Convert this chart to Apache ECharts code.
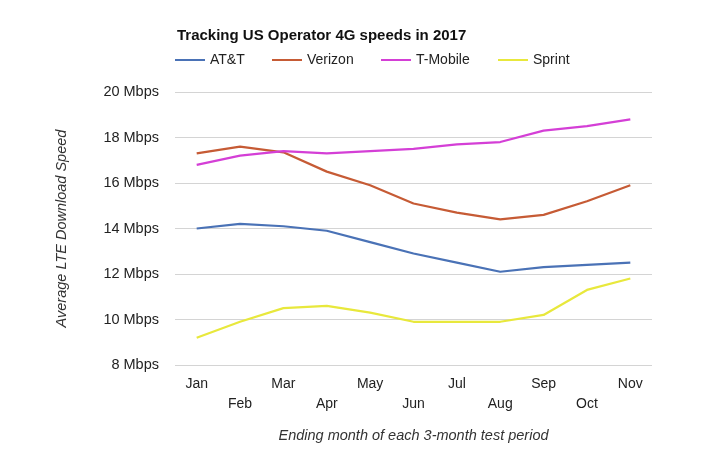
<!DOCTYPE html>
<html><head><meta charset="utf-8">
<script src="https://cdn.jsdelivr.net/npm/echarts@6/dist/echarts.min.js"></script>
<style>html,body{margin:0;padding:0;background:#fff;}#c{width:728px;height:465px;}</style>
</head><body><div id="c"></div>
<script>
const months = ['Jan','Feb','Mar','Apr','May','Jun','Jul','Aug','Sep','Oct','Nov'];
const att = [14.0,14.2,14.1,13.9,13.4,12.9,12.5,12.1,12.3,12.4,12.5];
const verizon = [17.3,17.6,17.35,16.5,15.9,15.1,14.7,14.4,14.6,15.2,15.9];
const tmobile = [16.8,17.2,17.4,17.3,17.4,17.5,17.7,17.8,18.3,18.5,18.8];
const sprint = [9.2,9.9,10.5,10.6,10.3,9.9,9.9,9.9,10.2,11.3,11.8];
const seriesNames = ['AT&T','Verizon','T-Mobile','Sprint'];
const colors = ['#4a72b6','#c65b35','#d43fd6','#e8e83c'];
const FONT = 'Liberation Sans, Arial, sans-serif';
const chart = echarts.init(document.getElementById('c'));
const legendLefts = [175, 272, 381, 498];
chart.setOption({
  animation: false,
  textStyle: {fontFamily: FONT},
  title: {text: 'Tracking US Operator 4G speeds in 2017', left: 172, top: 23,
    textStyle: {fontFamily: FONT, fontSize: 15, fontWeight: 'bold', color: '#111'}},
  legend: seriesNames.map((n, i) => ({
    data: [n], left: legendLefts[i], top: 53, padding: 0, itemWidth: 30, itemHeight: 14, itemGap: 5,
    icon: 'path://M0,6 L30,6 L30,8 L0,8 Z',
    textStyle: {fontFamily: FONT, fontSize: 14, color: '#222'}
  })),
  grid: {left: 175, right: 76, top: 92, bottom: 100},
  xAxis: {
    type: 'category', data: months, boundaryGap: true,
    axisLine: {show: false}, axisTick: {show: false},
    axisLabel: {fontFamily: FONT, fontSize: 14, color: '#222', margin: 9, lineHeight: 20,
      formatter: (v, i) => (i % 2 ? '\n' + v : v)},
    name: 'Ending month of each 3-month test period', nameLocation: 'middle', nameGap: 63,
    nameTextStyle: {fontFamily: FONT, fontSize: 14.5, fontStyle: 'italic', color: '#333'}
  },
  yAxis: {
    type: 'value', min: 8, max: 20, interval: 2,
    axisLine: {show: false}, axisTick: {show: false},
    axisLabel: {fontFamily: FONT, fontSize: 14.5, color: '#222', margin: 16, formatter: v => v + ' Mbps'},
    splitLine: {lineStyle: {color: '#d4d4d4', width: 1}},
    name: 'Average LTE Download Speed', nameLocation: 'middle', nameGap: 106, nameRotate: 90,
    nameTextStyle: {fontFamily: FONT, fontSize: 14.5, fontStyle: 'italic', color: '#333'}
  },
  series: [att, verizon, tmobile, sprint].map((d, i) => ({
    name: seriesNames[i], type: 'line', data: d, symbol: 'none',
    lineStyle: {width: 2.2, color: colors[i]}, itemStyle: {color: colors[i]}
  }))
});
</script></body></html>
